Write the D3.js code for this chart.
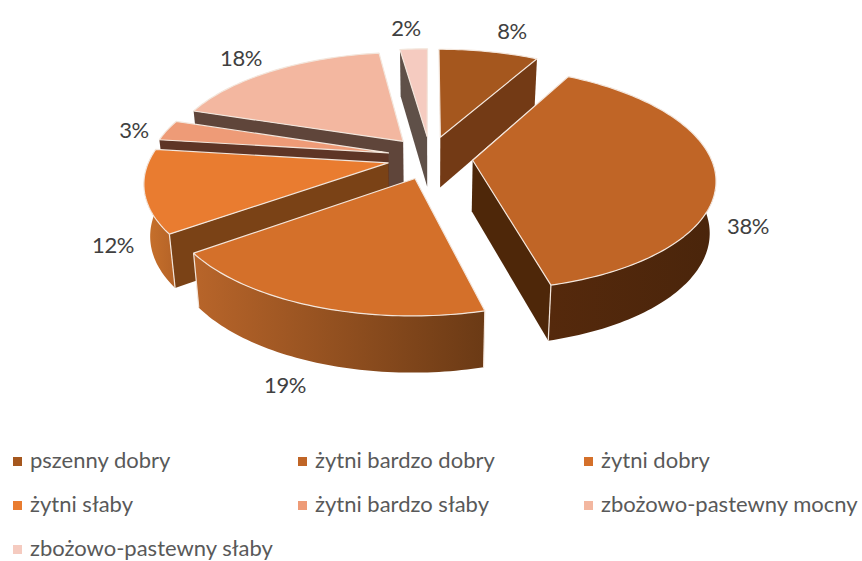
<!DOCTYPE html>
<html><head><meta charset="utf-8">
<script src="https://cdn.jsdelivr.net/npm/d3@7/dist/d3.min.js"></script>
<style>html,body{margin:0;background:#fff}svg{display:block}text{font-family:Lato,"Open Sans",sans-serif}</style>
</head><body><svg id="c" width="862" height="561"></svg>
<script>
const categories=["pszenny dobry","żytni bardzo dobry","żytni dobry","żytni słaby","żytni bardzo słaby","zbożowo-pastewny mocny","zbożowo-pastewny słaby"];
const shares=[8,38,19,12,3,17.8,2.2];
const topColors=["#a5571e","#c06526","#d4702a","#e97c30","#ee9b77","#f3b7a0","#f5cbc0"];
const wallColors=["#733a15","#4e2709","#7a4216","#7a4216","#5e3526","#5f453a","#5f5048"];
const rimFrom=["#733a15","#55290c","#b8652a","#c9722c","#5e3526","#5f453a","#5f5048"];
const rimTo=["#733a15","#4a250b","#6b3a15","#b56327","#5e3526","#5f453a","#5f5048"];
const labelAnchor=[[512,32],[748,227],[285,386],[113,246],[134,131],[241,59],[406,29]];
const paintOrder=[6,5,4,0,3,1,2];
const legendCols=[13,298,584], legendRows=[461,505,549];

const svg=d3.select("#c"), defs=svg.append("defs");
const cx=430, cy=157.5, sR=238, tR=108, q=0.16, D=51, ox=0.18, oy=0.2, taper=0.022;
const sx=d3.scaleLinear().domain([-1,1]).range([-sR,sR]);
const sy=d3.scaleLinear().domain([-1,1]).range([tR,-tR]);
const project=(X,Y,z)=>{const d=1+q*Y;return [cx+sx(X)/d*(1-taper*z), cy+sy(Y)/d+z*D/Math.sqrt(d)];};
const arcs=d3.pie().sort(null).startAngle(0).endAngle(2*Math.PI)(shares);
const line=d3.line();
function pt(s,a,r,z){const m=(s.startAngle+s.endAngle)/2;
  return project(ox*Math.sin(m)+r*Math.sin(a), oy*Math.cos(m)+r*Math.cos(a), z);}
function arcSamples(a0,a1){const n=Math.max(2,Math.ceil((a1-a0)/0.02));return d3.range(n+1).map(i=>a0+(a1-a0)*i/n);}
const g=svg.append("g");
const edge="#f3e6dc";

paintOrder.forEach(i=>{
  const s=arcs[i], a0=s.startAngle, a1=s.endAngle;
  const w0=Math.max(a0,Math.PI/2), w1=Math.min(a1,1.5*Math.PI);
  if(Math.sin(a0)<-1e-6) wall(s,a0,i);
  if(Math.sin(a1)>1e-6) wall(s,a1,i);
  if(w1>w0){
    const id="rim"+i, gr=defs.append("linearGradient").attr("id",id);
    gr.append("stop").attr("offset",0).attr("stop-color",rimFrom[i]);
    gr.append("stop").attr("offset",1).attr("stop-color",rimTo[i]);
    const as=arcSamples(w0,w1);
    const P=as.map(a=>pt(s,a,1,0)).concat(as.slice().reverse().map(a=>pt(s,a,1,1)));
    g.append("path").attr("d",line(P)+"Z").attr("fill",`url(#${id})`);
    if(a0>w0-1e-6){const p=[pt(s,a0,1,0),pt(s,a0,1,1)];g.append("path").attr("d",line(p)).attr("stroke",edge).attr("stroke-width",1.2);}
    if(a1<w1+1e-6){const p=[pt(s,a1,1,0),pt(s,a1,1,1)];g.append("path").attr("d",line(p)).attr("stroke",edge).attr("stroke-width",1.2);}
  }
  const P=[pt(s,a0,0,0)].concat(arcSamples(a0,a1).map(a=>pt(s,a,1,0)));
  g.append("path").attr("d",line(P)+"Z").attr("fill",topColors[i]).attr("stroke",edge).attr("stroke-width",1.2).attr("stroke-linejoin","round");
});
function wall(s,a,i){
  const P=[pt(s,a,0,0),pt(s,a,1,0),pt(s,a,1,1),pt(s,a,0,1)];
  g.append("path").attr("d",line(P)+"Z").attr("fill",wallColors[i]);
}
svg.append("g").selectAll("text").data(shares).join("text")
  .attr("x",(d,i)=>labelAnchor[i][0]).attr("y",(d,i)=>labelAnchor[i][1]+7)
  .attr("text-anchor","middle").attr("font-size",22).attr("letter-spacing",-0.4).attr("fill","#404040")
  .text(d=>d3.format(".0f")(d)+"%");
const lg=svg.append("g").selectAll("g").data(categories).join("g")
  .attr("transform",(d,i)=>`translate(${legendCols[i%3]},${legendRows[Math.floor(i/3)]})`);
lg.append("rect").attr("x",0).attr("y",-4).attr("width",9).attr("height",9).attr("fill",(d,i)=>topColors[i]);
lg.append("text").attr("x",17).attr("y",7).attr("font-size",22).attr("fill","#595959").text(d=>d);
</script></body></html>
